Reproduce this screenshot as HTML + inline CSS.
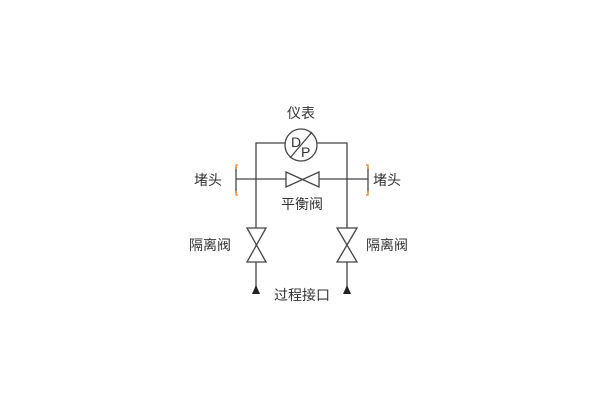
<!DOCTYPE html>
<html><head><meta charset="utf-8"><style>
html,body{margin:0;padding:0;background:#fff;}
svg{display:block}
text{font-family:"Liberation Sans","Noto Sans CJK SC",sans-serif;font-size:14px;fill:#333;}
</style></head><body>
<svg width="600" height="400" viewBox="0 0 600 400" xmlns="http://www.w3.org/2000/svg">
<g stroke="#444" stroke-width="1.3" fill="none">
<path d="M256 290 V143 H285 M317 143 H347 V290"/>
<circle cx="301" cy="145" r="16" fill="#fff"/>
<line x1="290" y1="158" x2="312" y2="132"/>
<line x1="236" y1="179" x2="286" y2="179"/>
<line x1="319" y1="179" x2="368" y2="179"/>
<path d="M286 172 L319 187 L319 172 L286 187 Z" fill="#fff"/>
<path d="M247 228 L266 228 L247 262 L266 262 Z" fill="#fff"/>
<path d="M337 228 L357 228 L337 262 L357 262 Z" fill="#fff"/>
<line x1="236" y1="167" x2="236" y2="193"/>
<line x1="368" y1="167" x2="368" y2="193"/>
</g>
<g stroke="#e08a2a" stroke-width="1.3" fill="none">
<path d="M238 165 H236 V169 M236 191 V195 H238"/>
<path d="M366 165 H368 V169 M368 191 V195 H366"/>
</g>
<polygon points="256,285 252,294 260,294" fill="#222"/>
<polygon points="347,285 343,294 351,294" fill="#222"/>
<text x="291" y="147" style="font-size:14px">D</text>
<text x="301" y="157" style="font-size:14px">P</text>
<text x="301" y="118" text-anchor="middle">仪表</text>
<text x="194" y="185">堵头</text>
<text x="373" y="185">堵头</text>
<text x="302" y="209" text-anchor="middle">平衡阀</text>
<text x="189" y="250">隔离阀</text>
<text x="366" y="250">隔离阀</text>
<text x="302" y="300" text-anchor="middle">过程接口</text>
</svg>
</body></html>
